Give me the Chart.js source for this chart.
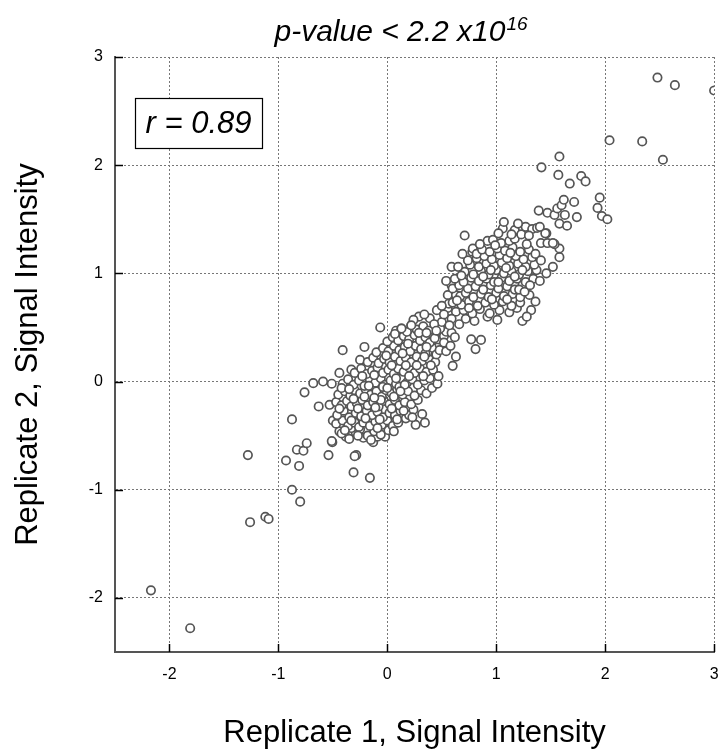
<!DOCTYPE html>
<html>
<head>
<meta charset="utf-8">
<script src="https://cdn.jsdelivr.net/npm/chart.js@4.4.1/dist/chart.umd.min.js"></script>
<style>
html,body{margin:0;padding:0;background:#ffffff;}
#wrap{width:720px;height:754px;position:relative;}
</style>
</head>
<body>
<div id="wrap"><canvas id="c" width="720" height="754"></canvas></div>
<script>
// ---- data: [Replicate 1, Replicate 2] ----
const lowTail = [
  [-2.17,-1.93],[-1.81,-2.28],[-1.28,-0.68],[-1.26,-1.30],[-1.12,-1.25],[-1.09,-1.27],
  [-0.93,-0.73],[-0.875,-0.35],[-0.875,-1.00],[-0.83,-0.63],[-0.77,-0.64],[-0.74,-0.57],
  [-0.81,-0.78],[-0.80,-1.11],[-0.76,-0.10],[-0.68,-0.015],[-0.59,0.0],[-0.51,-0.02],
  [-0.63,-0.23],[-0.53,-0.215],[-0.50,-0.36],[-0.505,-0.56],[-0.54,-0.68],[-0.285,-0.68],
  [-0.30,-0.69],[-0.31,-0.84],[-0.16,-0.89],[-0.13,-0.56],[-0.22,-0.52],[-0.02,-0.51],
  [-0.09,-0.51],[-0.44,-0.46],[-0.38,-0.51],[-0.51,-0.55],[-0.41,0.29],[-0.21,0.32],
  [-0.065,0.50],[-0.44,0.08],[-0.33,0.11],[-0.25,0.20]
];
const coreCluster = [
  [-0.42,-0.48],[-0.35,-0.53],[-0.29,-0.47],[-0.25,-0.44],[-0.18,-0.50],[-0.12,-0.46],[-0.06,-0.49],[-0.15,-0.54],[0.01,-0.45],[-0.33,-0.43],
  [-0.47,-0.39],[-0.41,-0.36],[-0.36,-0.41],[-0.30,-0.38],[-0.26,-0.42],[-0.22,-0.38],[-0.16,-0.41],[-0.11,-0.37],[-0.05,-0.40],[0.0,-0.36],[0.05,-0.41],[0.10,-0.38],[0.17,-0.34],[0.26,-0.40],
  [-0.46,-0.31],[-0.40,-0.27],[-0.35,-0.33],[-0.29,-0.29],[-0.24,-0.32],[-0.19,-0.27],[-0.14,-0.31],[-0.09,-0.28],[-0.04,-0.33],[0.02,-0.29],[0.07,-0.31],[0.12,-0.27],[0.20,-0.31],[0.24,-0.26],[-0.33,-0.36],
  [-0.47,-0.19],[-0.42,-0.22],[-0.37,-0.18],[-0.33,-0.23],[-0.28,-0.20],[-0.23,-0.17],[-0.18,-0.22],[-0.13,-0.19],[-0.08,-0.23],[-0.03,-0.18],[0.02,-0.21],[0.07,-0.17],[0.11,-0.22],[0.16,-0.19],[0.22,-0.21],[0.28,-0.17],
  [-0.45,-0.12],[-0.39,-0.09],[-0.34,-0.13],[-0.30,-0.08],[-0.25,-0.11],[-0.20,-0.07],[-0.15,-0.12],[-0.10,-0.09],[-0.05,-0.14],[-0.01,-0.08],[0.04,-0.11],[0.09,-0.07],[0.14,-0.12],[0.19,-0.09],[0.25,-0.13],[0.31,-0.08],[0.36,-0.11],
  [-0.41,-0.02],[-0.36,0.02],[-0.31,-0.03],[-0.26,0.01],[-0.21,-0.04],[-0.16,0.02],[-0.11,-0.01],[-0.06,0.03],[-0.02,-0.03],[0.03,0.01],[0.08,-0.02],[0.13,0.03],[0.18,-0.01],[0.23,0.02],[0.28,-0.03],[0.34,0.01],[0.39,0.03],
  [-0.30,0.08],[-0.24,0.12],[-0.19,0.07],[-0.14,0.10],[-0.09,0.13],[-0.04,0.08],[0.01,0.11],[0.06,0.07],[0.10,0.12],[0.15,0.09],[0.20,0.13],[0.25,0.08],[0.30,0.12],[0.36,0.09],[0.42,0.11],
  [-0.18,0.18],[-0.13,0.22],[-0.08,0.17],[-0.03,0.21],[0.02,0.18],[0.07,0.23],[0.12,0.19],[0.17,0.22],[0.22,0.18],[0.27,0.23],[0.32,0.19],[0.38,0.21],[0.44,0.18],
  [-0.10,0.27],[-0.04,0.31],[0.01,0.28],[0.06,0.33],[0.11,0.29],[0.16,0.32],[0.21,0.28],[0.26,0.33],[0.31,0.30],[0.37,0.27],[0.42,0.31],[0.48,0.34],
  [0.0,0.37],[0.05,0.41],[0.10,0.38],[0.15,0.42],[0.20,0.39],[0.25,0.43],[0.30,0.38],[0.35,0.41],[0.41,0.44],[0.47,0.39],[0.52,0.42],
  [0.08,0.47],[0.13,0.49],[0.18,0.46],[0.22,0.52],[0.27,0.48],[0.33,0.51],[0.38,0.47],[0.44,0.52],[0.49,0.49],[0.54,0.46],[0.59,0.45],
  [-0.20,-0.34],[-0.07,-0.35],[-0.27,-0.25],[-0.11,-0.24],[0.04,-0.25],[-0.21,-0.14],[-0.06,-0.17],[0.06,-0.14],[-0.17,-0.04],[-0.04,-0.05],[0.11,-0.05],[0.20,0.05],[0.04,0.15],[0.17,0.15],
  [-0.39,-0.45],[-0.27,-0.50],[-0.09,-0.43],[0.06,-0.46],[-0.44,-0.25],[-0.31,-0.16],[-0.12,-0.15],[0.09,-0.35],[0.15,-0.27],[0.23,-0.33],
  [-0.42,-0.06],[-0.23,0.05],[0.0,-0.06],[0.16,-0.03],[0.33,0.05],[-0.12,0.06],[0.08,0.03],[0.27,0.15],[-0.01,0.24],[0.14,0.26],
  [0.35,0.26],[0.45,0.25],[0.19,0.35],[0.39,0.36],[0.07,0.44],[0.29,0.45],[-0.35,-0.07],[0.12,-0.09]
];
const midBand = [
  [0.32,-0.30],[0.345,-0.38],[0.41,-0.06],[0.46,-0.02],[0.47,0.05],[0.40,0.15],[0.34,0.23],[0.36,0.32],
  [0.48,0.29],[0.54,0.28],[0.63,0.23],[0.60,0.145],[0.29,0.60],[0.455,0.66],[0.39,0.585],[0.485,0.49],
  [0.435,0.40],[0.36,0.45],[0.50,0.55],[0.43,0.53],[0.555,0.68],[0.63,0.645],[0.66,0.53],[0.565,0.72],
  [0.555,0.80],[0.63,0.80],[0.59,0.89],[0.77,0.39],[0.86,0.385],[0.81,0.30],[0.24,0.57],[0.34,0.62],
  [0.52,0.62],[0.59,0.58],[0.13,0.49],[0.22,0.52],
  [0.52,0.36],[0.58,0.33],[0.45,0.47],[0.50,0.70],[0.57,0.52],[0.62,0.41]
];
const upperCluster = [
  [0.72,0.58],[0.80,0.56],[0.92,0.60],[1.24,0.56],[1.01,0.57],
  [0.70,0.66],[0.78,0.63],[0.85,0.67],[0.94,0.63],[1.03,0.66],[1.12,0.64],[1.32,0.66],[1.19,0.68],
  [0.60,0.73],[0.68,0.71],[0.75,0.74],[0.83,0.70],[0.90,0.73],[0.98,0.71],[1.06,0.74],[1.14,0.70],[1.22,0.73],[1.36,0.74],[1.28,0.60],
  [0.67,0.79],[0.72,0.82],[0.79,0.78],[0.86,0.81],[0.93,0.78],[1.00,0.82],[1.07,0.79],[1.15,0.81],[1.22,0.78],[1.305,0.80],
  [0.60,0.86],[0.66,0.89],[0.74,0.86],[0.81,0.88],[0.88,0.85],[0.95,0.89],[1.02,0.86],[1.10,0.88],[1.17,0.85],[1.24,0.89],[1.21,0.85],
  [0.62,0.95],[0.70,0.92],[0.77,0.96],[0.84,0.93],[0.91,0.95],[0.98,0.92],[1.05,0.96],[1.12,0.93],[1.19,0.95],[1.27,0.92],[1.34,0.95],
  [0.71,1.015],[0.79,0.99],[0.86,1.02],[0.93,0.99],[1.00,1.03],[1.07,1.00],[1.14,1.02],[1.21,0.99],[1.29,1.02],[1.46,1.00],[1.37,1.03],
  [0.59,1.06],[0.65,1.06],[0.76,1.08],[0.84,1.06],[0.91,1.09],[0.98,1.07],[1.05,1.10],[1.12,1.07],[1.20,1.09],[1.27,1.06],[1.35,1.08],[1.52,1.06],
  [0.82,1.14],[0.89,1.16],[0.96,1.13],[1.03,1.17],[1.10,1.14],[1.18,1.16],[1.25,1.13],[1.33,1.15],[1.58,1.15],[0.78,1.20],
  [0.785,1.23],[0.82,1.18],[0.87,1.22],[0.94,1.20],[1.01,1.23],[1.08,1.21],[1.15,1.24],[1.22,1.20],[1.30,1.22],[1.58,1.23],
  [0.92,1.30],[0.97,1.31],[1.045,1.28],[1.12,1.30],[1.17,1.32],[1.41,1.28],[1.47,1.28],[1.535,1.27],[1.52,1.28],
  [0.71,1.35],[1.06,1.415],[1.17,1.40],[1.23,1.36],[1.27,1.43],[1.33,1.41],[1.375,1.42],[1.07,1.475],[1.46,1.37],
  [0.64,0.75],[0.75,0.68],[0.96,0.76],[1.10,0.76],[1.26,0.83],[0.68,0.98],[0.88,0.97],[1.02,0.92],[1.17,0.97],[1.31,0.89],
  [0.74,1.12],[0.95,1.03],[1.09,1.05],[1.24,1.03],[0.85,1.27],[0.99,1.26],[1.13,1.19],[1.28,1.27],[1.36,1.18],[1.02,1.37],
  [1.14,1.36],[1.41,1.12],[0.69,1.18],[1.40,0.93],[0.54,0.93],[1.20,1.46],[1.30,1.35]
];
const highTail = [
  [1.39,1.58],[1.47,1.56],[1.535,1.54],[1.56,1.60],[1.60,1.63],[1.62,1.68],[1.715,1.66],[1.63,1.54],
  [1.74,1.52],[1.58,1.46],[1.65,1.44],[1.45,1.37],[1.40,1.43],[1.415,1.98],[1.58,2.08],[1.57,1.91],
  [1.675,1.83],[1.78,1.90],[1.82,1.85],[1.95,1.70],[1.93,1.605],[1.97,1.53],[2.02,1.50],[2.04,2.23],
  [2.34,2.22],[2.53,2.05],[2.48,2.81],[2.64,2.74],[3.0,2.69]
];
const xTicks = [-2, -1, 0, 1, 2, 3];
const yTicks = [-2, -1, 0, 1, 2, 3];
const xLimits = [-2.5, 3];
const yLimits = [-2.5, 3];
const titleMain = 'p-value < 2.2 x10';
const titleSup = '16';
const rLabel = 'r = 0.89';
const xTitle = 'Replicate 1, Signal Intensity';
const yTitle = 'Replicate 2, Signal Intensity';

// ---- chart ----
const FONT = '"Liberation Sans", Arial, Helvetica, sans-serif';
Chart.defaults.font.family = FONT;

const points = [...lowTail, ...coreCluster, ...midBand, ...upperCluster, ...highTail].map(([x, y]) => ({x, y}));

const decor = {
  id: 'decor',
  afterDraw(chart) {
    const {ctx, chartArea: a, scales: {x, y}} = chart;
    ctx.save();
    // inward tick marks
    ctx.strokeStyle = '#000';
    ctx.lineWidth = 1.5;
    xTicks.forEach(v => {
      const px = Math.round(x.getPixelForValue(v)) + 0.5;
      ctx.beginPath(); ctx.moveTo(px, a.bottom); ctx.lineTo(px, a.bottom - 8); ctx.stroke();
    });
    yTicks.forEach(v => {
      const py = Math.round(y.getPixelForValue(v)) + 0.5;
      ctx.beginPath(); ctx.moveTo(a.left, py); ctx.lineTo(a.left + 8, py); ctx.stroke();
    });
    // title with superscript
    ctx.fillStyle = '#000';
    ctx.textBaseline = 'alphabetic';
    ctx.textAlign = 'left';
    const mainFont = 'italic 30px ' + FONT;
    const supFont = 'italic 19px ' + FONT;
    ctx.font = mainFont;
    const w1 = ctx.measureText(titleMain).width;
    ctx.font = supFont;
    const w2 = ctx.measureText(titleSup).width;
    const cx = (a.left + a.right) / 2 - 14;
    const sx = cx - (w1 + w2) / 2;
    ctx.font = mainFont;
    ctx.fillText(titleMain, sx, 41);
    ctx.font = supFont;
    ctx.fillText(titleSup, sx + w1 + 1, 30);
    // r box
    ctx.font = 'italic 31px ' + FONT;
    const bx = a.left + 20, by = a.top + 41, bw = 127, bh = 50;
    ctx.fillStyle = '#fff';
    ctx.fillRect(bx, by, bw, bh);
    ctx.strokeStyle = '#000';
    ctx.lineWidth = 1.2;
    ctx.strokeRect(bx + 0.5, by + 0.5, bw, bh);
    ctx.fillStyle = '#000';
    ctx.textAlign = 'center';
    ctx.textBaseline = 'middle';
    ctx.fillText(rLabel, bx + bw / 2, by + bh / 2 + 1);
    ctx.restore();
  }
};

new Chart(document.getElementById('c'), {
  type: 'scatter',
  data: {
    datasets: [{
      data: points,
      pointRadius: 4.2,
      pointHoverRadius: 4.2,
      pointBorderWidth: 1.7,
      pointBorderColor: '#555555',
      pointBackgroundColor: '#ffffff'
    }]
  },
  options: {
    responsive: false,
    animation: false,
    devicePixelRatio: 1,
    layout: {padding: {top: 57, right: 5, left: 0, bottom: 0}},
    plugins: {legend: {display: false}, tooltip: {enabled: false}, title: {display: false}},
    scales: {
      x: {
        type: 'linear',
        min: xLimits[0], max: xLimits[1],
        afterBuildTicks: s => { s.ticks = xTicks.map(v => ({value: v})); },
        afterFit: s => { s.height = 102; s.paddingLeft = 0; s.paddingRight = 0; },
        grid: {color: '#777', lineWidth: 1, drawTicks: false},
        border: {display: true, color: '#555', width: 2, dash: [2, 2]},
        ticks: {color: '#000', font: {size: 16}, padding: 13, maxRotation: 0, autoSkip: false},
        title: {display: true, text: xTitle, color: '#000', font: {size: 31}, padding: {top: 0, bottom: 2}}
      },
      y: {
        type: 'linear',
        min: yLimits[0], max: yLimits[1],
        afterBuildTicks: s => { s.ticks = yTicks.map(v => ({value: v})); },
        afterFit: s => { s.width = 115; s.paddingTop = 0; s.paddingBottom = 0; },
        grid: {color: '#777', lineWidth: 1, drawTicks: false},
        border: {display: true, color: '#555', width: 2, dash: [2, 2]},
        ticks: {color: '#000', font: {size: 16}, padding: 12, autoSkip: false},
        title: {display: true, text: yTitle, color: '#000', font: {size: 31}, padding: {top: 10, bottom: 0}}
      }
    }
  },
  plugins: [decor]
});
</script>
</body>
</html>
